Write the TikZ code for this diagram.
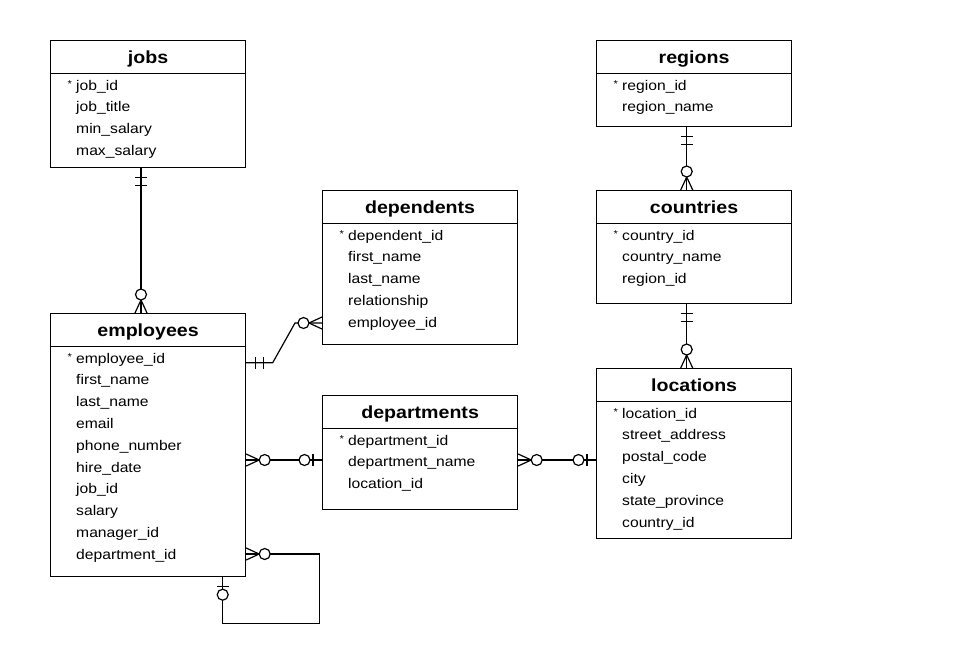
\documentclass[tikz,border=0pt]{standalone}
\usepackage{fontspec}
\setmainfont{Liberation Sans}[FakeStretch=1.12]
\usetikzlibrary{calc}
\tikzset{
  tbox/.style={draw, line width=1.2pt, minimum width=195pt, inner sep=0pt, anchor=north west},
  div/.style={line width=1.2pt},
  ttl/.style={font=\fontsize{17.5}{20}\selectfont\bfseries, anchor=base, inner sep=0pt},
  fld/.style={font=\fontsize{14}{16}\selectfont, anchor=base west, inner sep=0pt},
  starmark/.style={font=\fontsize{10}{12}\selectfont, anchor=base west, inner sep=0pt},
  conn/.style={line width=1.2pt},
  ermany/.pic={\draw[conn] (0,-6)--(13,0)--(0,6); \draw[conn, fill=white] (18.5,0) circle[radius=5.5];},
  erone/.pic={\draw[conn] (9,-6)--(9,6); \draw[conn] (17,-6)--(17,6);},
  erzone/.pic={\draw[conn] (9,-6)--(9,6); \draw[conn, fill=white] (17.5,0) circle[radius=5.5];},
}
\newcommand\erdivider[1]{\draw[div] ([yshift=-33.7pt]#1.north west) -- ([yshift=-33.7pt]#1.north east);}
\newcommand\erfields[2]{%
  \node[starmark] (#1-star) at ($(#1.north west)+(17.5,-47)$) {*};
  \foreach \t [count=\i] in {#2} {\node[fld] (#1-\i) at ($(#1.north west)+(26,{-50-(\i-1)*21.8})$) {\t};}
}
\begin{document}
\begin{tikzpicture}[x=1pt,y=1pt]
\useasboundingbox (0,0) rectangle (969,-657);
% tables
\node[tbox, minimum height=127pt] (jobs) at (50,-40) {};
\node[tbox, minimum height=263pt] (employees) at (50,-313) {};
\node[tbox, minimum height=154pt] (dependents) at (322,-190) {};
\node[tbox, minimum height=114pt] (departments) at (322,-395) {};
\node[tbox, minimum height=86pt] (regions) at (596,-40) {};
\node[tbox, minimum height=113pt] (countries) at (596,-190) {};
\node[tbox, minimum height=170pt] (locations) at (596,-368) {};
\foreach \n in {jobs,employees,dependents,departments,regions,countries,locations}{
  \erdivider{\n}
  \node[ttl] (\n-t) at ([yshift=-23pt]\n.north) {\n};
}
\erfields{jobs}{job\_id,job\_title,min\_salary,max\_salary}
\erfields{employees}{employee\_id,first\_name,last\_name,email,phone\_number,hire\_date,job\_id,salary,manager\_id,department\_id}
\erfields{dependents}{dependent\_id,first\_name,last\_name,relationship,employee\_id}
\erfields{departments}{department\_id,department\_name,location\_id}
\erfields{regions}{region\_id,region\_name}
\erfields{countries}{country\_id,country\_name,region\_id}
\erfields{locations}{location\_id,street\_address,postal\_code,city,state\_province,country\_id}
% connectors
% jobs - employees
\coordinate (je1) at ([xshift=91pt]jobs.south west);
\coordinate (je2) at ([xshift=91pt]employees.north west);
\draw[conn] (je1) -- (je2);
\pic[rotate=-90] at (je1) {erone};
\pic[rotate=90] at (je2) {ermany};
% employees - dependents
\coordinate (ed1) at ([yshift=-49.7pt]employees.north east);
\coordinate (ed2) at ([yshift=-133pt]dependents.north west);
\draw[conn] (ed1) -- ++(26.5,0) -- ([xshift=-27pt]ed2) -- (ed2);
\pic at (ed1) {erone};
\pic[rotate=180] at (ed2) {ermany};
% employees - departments
\coordinate (ep1) at ([yshift=-147pt]employees.north east);
\coordinate (ep2) at ([yshift=-65pt]departments.north west);
\draw[conn] (ep1) -- (ep2);
\pic at (ep1) {ermany};
\pic[rotate=180] at (ep2) {erzone};
% departments - locations
\coordinate (dl1) at ([yshift=-65pt]departments.north east);
\coordinate (dl2) at ([yshift=-92pt]locations.north west);
\draw[conn] (dl1) -- (dl2);
\pic at (dl1) {ermany};
\pic[rotate=180] at (dl2) {erzone};
% regions - countries
\coordinate (rc1) at ([xshift=90.7pt]regions.south west);
\coordinate (rc2) at ([xshift=90.7pt]countries.north west);
\draw[conn] (rc1) -- (rc2);
\pic[rotate=-90] at (rc1) {erone};
\pic[rotate=90] at (rc2) {ermany};
% countries - locations
\coordinate (cl1) at ([xshift=90.7pt]countries.south west);
\coordinate (cl2) at ([xshift=90.7pt]locations.north west);
\draw[conn] (cl1) -- (cl2);
\pic[rotate=-90] at (cl1) {erone};
\pic[rotate=90] at (cl2) {ermany};
% employees self relation (manager)
\coordinate (ms1) at ([yshift=-241pt]employees.north east);
\coordinate (ms2) at ([xshift=172.7pt]employees.south west);
\draw[conn] (ms1) -- ++(73,0) |- ([yshift=-46pt]ms2) -- (ms2);
\pic at (ms1) {ermany};
\pic[rotate=-90] at (ms2) {erzone};
\end{tikzpicture}
\end{document}
